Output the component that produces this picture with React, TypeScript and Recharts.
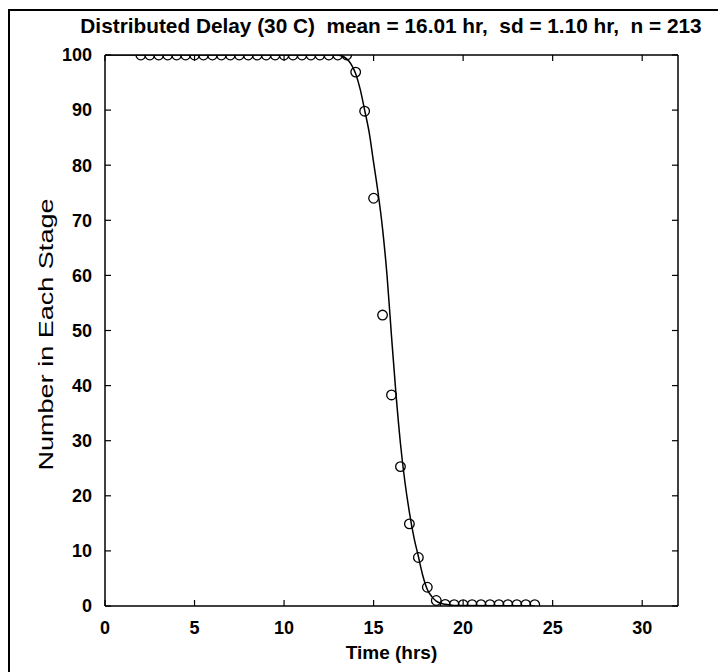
import {
  ScatterChart,
  Scatter,
  XAxis,
  YAxis,
  Label,
} from "recharts";

// ---------------------------------------------------------------------------
// Data
// ---------------------------------------------------------------------------
const TITLE = "Distributed Delay (30 C)  mean = 16.01 hr,  sd = 1.10 hr,  n = 213";
const Y_TITLE = "Number in Each Stage";

// observed counts (circles)
const obsTime = [
  2, 2.5, 3, 3.5, 4, 4.5, 5, 5.5, 6, 6.5, 7, 7.5, 8, 8.5, 9, 9.5, 10, 10.5,
  11, 11.5, 12, 12.5, 13, 13.5, 14, 14.5, 15, 15.5, 16, 16.5, 17, 17.5, 18,
  18.5, 19, 19.5, 20, 20.5, 21, 21.5, 22, 22.5, 23, 23.5, 24,
];
const obsCount = [
  100, 100, 100, 100, 100, 100, 100, 100, 100, 100, 100, 100, 100, 100, 100,
  100, 100, 100, 100, 100, 100, 100, 100, 100, 96.9, 89.8, 74.0, 52.8, 38.3,
  25.3, 14.9, 8.8, 3.4, 1.0, 0.3, 0.25, 0.25, 0.25, 0.25, 0.25, 0.25, 0.25,
  0.25, 0.25, 0.25,
];

// fitted model curve
const fitTime = [
  0, 13, 13.5, 13.75, 14, 14.25, 14.5, 14.75, 15, 15.25, 15.5, 15.75, 16,
  16.25, 16.5, 16.75, 17, 17.25, 17.5, 17.75, 18, 18.25, 18.5, 18.75, 19,
  19.5, 24,
];
const fitCount = [
  100, 100, 99.3, 98.3, 96.6, 93.8, 90, 86, 80.5, 75, 68.5, 60, 49, 38.5,
  29.5, 22.5, 17, 12.5, 9, 5.5, 3, 1.7, 0.9, 0.5, 0.3, 0.1, 0,
];

const xTicks = [0, 5, 10, 15, 20, 25, 30];
const yTicks = [0, 10, 20, 30, 40, 50, 60, 70, 80, 90, 100];

const obsData = obsTime.map((t, i) => ({ t, n: obsCount[i] }));
const fitData = fitTime.map((t, i) => ({ t, n: fitCount[i] }));

// ---------------------------------------------------------------------------
// Styling
// ---------------------------------------------------------------------------
const FONT = "'Liberation Sans', Arial, sans-serif";
const TICK_LEN = 6;
const X_MARGIN = 15;
const Y_MARGIN = 13;
const axisLine = { stroke: "#000", strokeWidth: 1.5 };

type TickProps = { x?: number; y?: number; payload?: { value: number } };

const labelStyle = { fill: "#000", fontSize: 18, fontFamily: FONT, fontWeight: 700 };

// MATLAB style: tick marks point into the box, labels outside
function BottomTick({ x = 0, y = 0, payload }: TickProps) {
  const ay = y - X_MARGIN;
  return (
    <g>
      <line x1={x} x2={x} y1={ay} y2={ay - TICK_LEN} stroke="#000" strokeWidth={1.2} />
      <text x={x} y={y} dy="0.71em" textAnchor="middle" style={labelStyle}>
        {payload?.value}
      </text>
    </g>
  );
}

function LeftTick({ x = 0, y = 0, payload }: TickProps) {
  const ax = x + Y_MARGIN;
  return (
    <g>
      <line x1={ax} x2={ax + TICK_LEN} y1={y} y2={y} stroke="#000" strokeWidth={1.2} />
      <text x={x} y={y} dy="0.355em" textAnchor="end" style={labelStyle}>
        {payload?.value}
      </text>
    </g>
  );
}

function TopTick({ x = 0, y = 0 }: TickProps) {
  return <line x1={x} x2={x} y1={y} y2={y + TICK_LEN} stroke="#000" strokeWidth={1.2} />;
}

function RightTick({ x = 0, y = 0 }: TickProps) {
  return <line x1={x} x2={x - TICK_LEN} y1={y} y2={y} stroke="#000" strokeWidth={1.2} />;
}

// y title is stretched in the scan, so fix its length
function YTitle(props: { viewBox?: { x: number; y: number; width: number; height: number } }) {
  const vb = props.viewBox ?? { x: 0, y: 0, width: 0, height: 0 };
  const cx = vb.x + 30;
  const cy = vb.y + vb.height / 2 + 4;
  return (
    <text
      x={cx}
      y={cy}
      transform={`rotate(-90 ${cx} ${cy})`}
      textAnchor="middle"
      dominantBaseline="central"
      textLength={272}
      lengthAdjust="spacingAndGlyphs"
      style={{ fill: "#000", fontSize: 21, fontFamily: FONT }}
    >
      {Y_TITLE}
    </text>
  );
}

function Circle(props: { cx?: number; cy?: number }) {
  const { cx = 0, cy = 0 } = props;
  return <circle cx={cx} cy={cy} r={4.8} fill="none" stroke="#000" strokeWidth={1.3} />;
}

function NoDot() {
  return <g />;
}

export default function App() {
  return (
    <div style={{ position: "relative", width: 718, height: 664, background: "#fff" }}>
      {/* scanned figure frame */}
      <div style={{ position: "absolute", left: 0, top: 1, width: 2, height: 663, background: "#000" }} />
      <div style={{ position: "absolute", left: 0, top: 1, width: 718, height: 2, background: "#000" }} />

      <div
        style={{
          position: "absolute",
          left: 0,
          top: 6,
          width: 718,
          textAlign: "center",
          paddingLeft: 48,
          boxSizing: "border-box",
          fontFamily: FONT,
          fontWeight: 700,
          fontSize: 20.8,
          whiteSpace: "pre",
          lineHeight: "24px",
        }}
      >
        {TITLE}
      </div>

      <ScatterChart
        width={718}
        height={664}
        margin={{ top: 46, right: 47, bottom: 6, left: 7 }}
      >
        <XAxis
          xAxisId="b"
          dataKey="t"
          type="number"
          domain={[0, 32]}
          ticks={xTicks}
          allowDataOverflow
          height={60}
          axisLine={axisLine}
          tickLine={false}
          tickSize={0}
          tickMargin={X_MARGIN}
          tick={BottomTick}
        >
          <Label
            value="Time (hrs)"
            position="insideBottom"
            offset={7}
            style={{ fill: "#000", fontSize: 19, fontFamily: FONT, fontWeight: 700 }}
          />
        </XAxis>
        <XAxis
          xAxisId="top"
          orientation="top"
          dataKey="t"
          type="number"
          domain={[0, 32]}
          ticks={xTicks}
          allowDataOverflow
          height={1}
          axisLine={axisLine}
          tickLine={false}
          tickSize={0}
          tickMargin={0}
          tick={TopTick}
        />
        <YAxis
          yAxisId="l"
          dataKey="n"
          type="number"
          domain={[0, 100]}
          ticks={yTicks}
          allowDataOverflow
          width={90}
          axisLine={axisLine}
          tickLine={false}
          tickSize={0}
          tickMargin={Y_MARGIN}
          tick={LeftTick}
        >
          <Label content={YTitle} />
        </YAxis>
        <YAxis
          yAxisId="r"
          orientation="right"
          dataKey="n"
          type="number"
          domain={[0, 100]}
          ticks={yTicks}
          allowDataOverflow
          width={1}
          axisLine={axisLine}
          tickLine={false}
          tickSize={0}
          tickMargin={0}
          tick={RightTick}
        />
        <Scatter
          xAxisId="b"
          yAxisId="l"
          data={fitData}
          line={{ stroke: "#000", strokeWidth: 1.5 }}
          lineJointType="monotoneX"
          shape={NoDot}
          isAnimationActive={false}
        />
        <Scatter
          xAxisId="b"
          yAxisId="l"
          data={obsData}
          shape={Circle}
          isAnimationActive={false}
        />
      </ScatterChart>
    </div>
  );
}
